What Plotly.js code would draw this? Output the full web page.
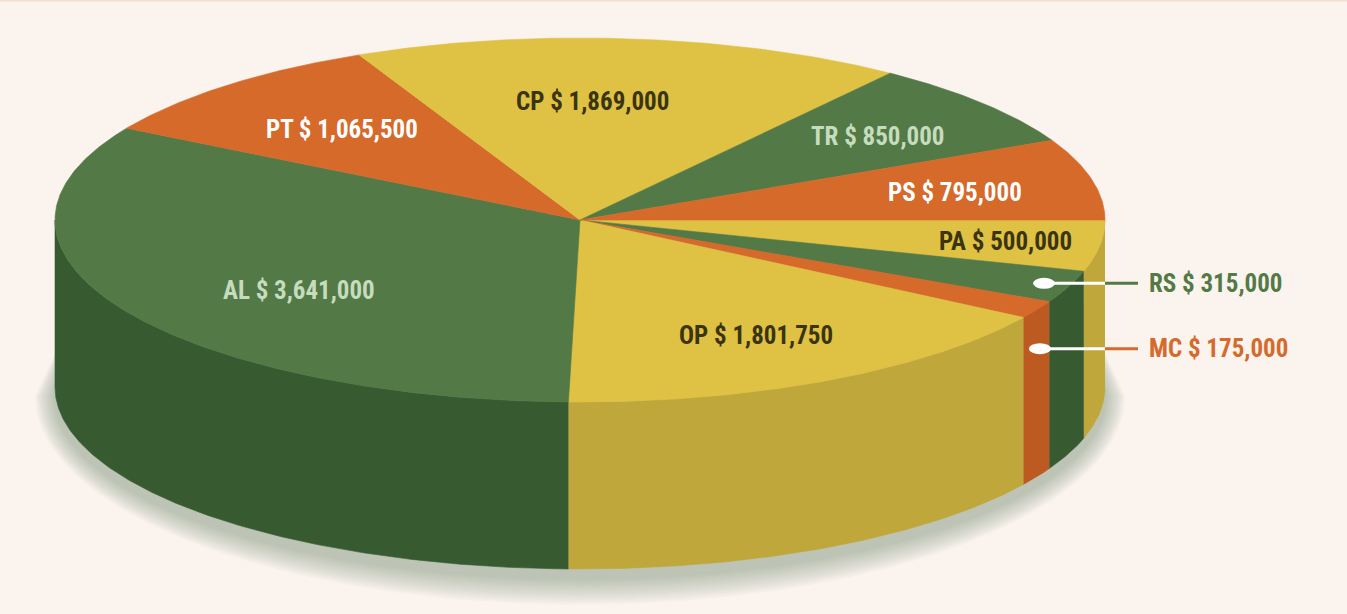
<!DOCTYPE html>
<html><head><meta charset="utf-8">
<script src="https://cdn.plot.ly/plotly-3.0.1.min.js"></script>
<style>html,body{margin:0;padding:0;background:#faf3ee;} #chart{width:1347px;height:614px;}</style>
</head><body><div id="chart"></div><script>
// ---- data (clockwise from 3 o'clock) ----
const categories = ["PA","RS","MC","OP","AL","PT","CP","TR","PS"];
const values = [500000,315000,175000,1801750,3641000,1065500,1869000,850000,795000];
const topColors  = ["#dfc144","#537a46","#d56a2b","#dfc144","#537a46","#d56a2b","#dfc144","#537a46","#d56a2b"];
const sideColors = ["#bfa73b","#385a30","#bd5a22","#bfa73b","#385a30","#bd5a22","#bfa73b","#385a30","#bd5a22"];
const textColors = ["#3a3410","#537a46","#d56a2b","#3a3410","#c6dcbf","#ffffff","#3a3410","#c6dcbf","#ffffff"];
const outside    = [false,true,true,false,false,false,false,false,false];
// label placement: radius fraction and angle tweak (deg)
const labelR  = [0.82,0.95,0.95,0.716,0.66,0.671,0.65,0.728,0.73];
const labelDA = [0.3,0,0,0.2,-6.7,-0.2,-3.6,0.9,1.0];

// ---- geometry (pixels -> unit axes) ----
const W=1347,H=614,CX=580,CY=220,RX=525,RY=182,DEPTHPX=167;
const D = DEPTHPX/RY;
const FONT = "Liberation Sans Narrow, Arial Narrow, Roboto Condensed, Roboto, sans-serif";
function fmt(v){ return '$ ' + String(v).replace(/\B(?=(\d{3})+(?!\d))/g, ','); }
const rad = a => a*Math.PI/180;
const total = values.reduce((s,v)=>s+v,0);

const traces = [];
// soft shadow under the cylinder (hidden behind it at the top)
for (let k=14;k>=1;k--){
  const e=k*1.9, off=9;
  const sx=(RX+e*0.75)/RX, sy=(RY+e)/RY;
  const xs=[],ys=[];
  for(let a=180;a<=360;a+=1){xs.push(Math.cos(rad(a))*0.97); ys.push(-Math.sin(rad(a))*0.5 - D*0.6);}
  for(let a=0;a<=180;a+=1){xs.push(Math.cos(rad(a))*sx); ys.push(-Math.sin(rad(a))*sy - D - off/RY);}
  traces.push({type:'scatter',mode:'lines',x:xs,y:ys,fill:'toself',fillcolor:'rgba(100,112,80,0.03)',line:{width:0},hoverinfo:'skip',showlegend:false});
}
// slices
const starts=[];let cum=0;
values.forEach(v=>{starts.push(cum);cum+=v/total*360;});
const sideTraces=[],topTraces=[];
values.forEach((v,i)=>{
  const a0=starts[i], a1=a0+v/total*360;
  const s0=Math.max(a0,0), s1=Math.min(a1,180);
  if(s1>s0){
    const xs=[],ys=[];
    const n=Math.max(2,Math.ceil((s1-s0)/0.5));
    for(let j=0;j<=n;j++){const a=s0+(s1-s0)*j/n; xs.push(Math.cos(rad(a))); ys.push(-Math.sin(rad(a)));}
    for(let j=n;j>=0;j--){const a=s0+(s1-s0)*j/n; xs.push(Math.cos(rad(a))); ys.push(-Math.sin(rad(a))-D);}
    sideTraces.push({type:'scatter',mode:'lines',x:xs,y:ys,fill:'toself',fillcolor:sideColors[i],line:{width:0.6,color:sideColors[i]},hoverinfo:'skip',showlegend:false});
  }
  const xs=[0],ys=[0];
  const n=Math.max(2,Math.ceil((a1-a0)/0.5));
  for(let j=0;j<=n;j++){const a=a0+(a1-a0)*j/n; xs.push(Math.cos(rad(a))); ys.push(-Math.sin(rad(a)));}
  xs.push(0);ys.push(0);
  topTraces.push({type:'scatter',mode:'lines',x:xs,y:ys,fill:'toself',fillcolor:topColors[i],line:{width:0.6,color:topColors[i]},hoverinfo:'skip',showlegend:false});
});
traces.push(...sideTraces,...topTraces);

// labels
const annotations=[], shapes=[];
const px2x = p => p/RX, px2y = p => p/RY;
values.forEach((v,i)=>{
  const mid=starts[i]+v/total*180;
  const txt='<b>'+categories[i]+' '+fmt(v)+'</b>';
  if(!outside[i]){
    const a=mid+labelDA[i];
    annotations.push({x:labelR[i]*Math.cos(rad(a)),y:-labelR[i]*Math.sin(rad(a)),text:txt,showarrow:false,xanchor:'center',yanchor:'middle',font:{family:FONT,size:25,color:textColors[i]}});
  } else {
    let dx=labelR[i]*Math.cos(rad(mid)), dy=-labelR[i]*Math.sin(rad(mid));
    if(categories[i]==="MC"){ dx=Math.cos(rad(mid))+px2x(3); dy=-Math.sin(rad(mid))-px2y(39); }
    const edge=1.0, end=1.0+px2x(33);
    traces.push({type:'scatter',mode:'lines',x:[dx,edge],y:[dy,dy],line:{color:'#ffffff',width:3},hoverinfo:'skip',showlegend:false});
    traces.push({type:'scatter',mode:'lines',x:[edge,end],y:[dy,dy],line:{color:textColors[i],width:3},hoverinfo:'skip',showlegend:false});
    shapes.push({type:'circle',xref:'x',yref:'y',x0:dx-px2x(11),x1:dx+px2x(11),y0:dy-px2y(5.5),y1:dy+px2y(5.5),fillcolor:'#ffffff',line:{width:0}});
    annotations.push({x:end+px2x(9),y:dy,text:txt,showarrow:false,xanchor:'left',yanchor:'middle',font:{family:FONT,size:25,color:textColors[i]}});
  }
});
shapes.push({type:'line',xref:'paper',yref:'paper',x0:0,x1:1,y0:1,y1:1,line:{color:'#f6ddcc',width:3}});

const layout={
  width:W,height:H,margin:{l:0,r:0,t:0,b:0},
  paper_bgcolor:'#faf3ee',plot_bgcolor:'#faf3ee',showlegend:false,
  xaxis:{range:[-CX/RX,(W-CX)/RX],visible:false,fixedrange:true},
  yaxis:{range:[-(H-CY)/RY,CY/RY],visible:false,fixedrange:true},
  annotations:annotations,shapes:shapes,hovermode:false
};
Plotly.newPlot('chart',traces,layout,{displayModeBar:false,staticPlot:true});
</script></body></html>
